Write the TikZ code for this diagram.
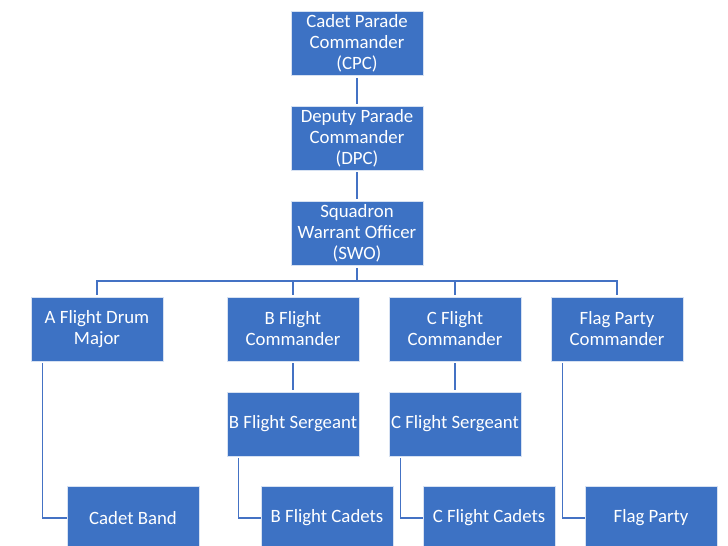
\documentclass[tikz,border=0pt]{standalone}
\usepackage{fontspec}
\setmainfont{Carlito}
\definecolor{boxblue}{RGB}{61,114,196}
\definecolor{edgeblue}{RGB}{214,225,242}
\definecolor{lineblue}{RGB}{68,114,196}
\begin{document}
\begin{tikzpicture}[x=1pt,y=-1pt,
  orgbox/.style={rectangle, fill=boxblue, draw=edgeblue, line width=0.8pt,
    minimum width=132pt, minimum height=64pt, inner sep=1pt, text=white, align=center,
    font=\fontsize{18.8}{21}\selectfont},
  link/.style={draw=lineblue, line width=1.6pt, shorten <=2pt, shorten >=2pt},
  elbow/.style={draw=lineblue, line width=1.6pt, shorten <=2pt}]
\useasboundingbox (0,0) rectangle (728,546);
\clip (0,0) rectangle (728,546);
\fill[white] (0,0) rectangle (728,546);
\node[orgbox] (cpc) at (357,43.5) {Cadet Parade\\Commander\\(CPC)};
\node[orgbox] (dpc) at (357,138) {Deputy Parade\\Commander\\(DPC)};
\node[orgbox] (swo) at (357,233.5) {Squadron\\Warrant Officer\\(SWO)};
\node[orgbox] (a) at (97,329) {A Flight Drum\\Major};
\node[orgbox] (b) at (293,329) {B Flight\\Commander};
\node[orgbox] (c) at (455,329) {C Flight\\Commander};
\node[orgbox] (fp) at (617,329) {Flag Party\\Commander};
\node[orgbox] (bs) at (293,424) {B Flight Sergeant};
\node[orgbox] (cs) at (455,424) {C Flight Sergeant};
\node[orgbox] (band) at (133,518) {Cadet Band};
\node[orgbox] (bc) at (327,518) {B Flight Cadets};
\node[orgbox] (cc) at (489,518) {C Flight Cadets};
\node[orgbox] (fpc) at (651,518) {Flag Party};
\coordinate (bus) at (0,281);
\draw[link] (cpc) -- (dpc);
\draw[link] (dpc) -- (swo);
\draw[link, shorten >=0pt] (swo.south) -- (swo.south |- bus);
\draw[draw=lineblue, line width=1.6pt, shorten <=2pt, shorten >=2pt, line join=miter]
  (a.north) -- (a.north |- bus) -- (fp.north |- bus) -- (fp.north);
\draw[link, shorten <=0pt] (b.north |- bus) -- (b.north);
\draw[link, shorten <=0pt] (c.north |- bus) -- (c.north);
\draw[link] (b) -- (bs);
\draw[link] (c) -- (cs);
\draw[elbow] ([xshift=12pt]a.south west) |- (band.west);
\draw[elbow] ([xshift=12pt]bs.south west) |- (bc.west);
\draw[elbow] ([xshift=12pt]cs.south west) |- (cc.west);
\draw[elbow] ([xshift=12pt]fp.south west) |- (fpc.west);
\end{tikzpicture}
\end{document}
